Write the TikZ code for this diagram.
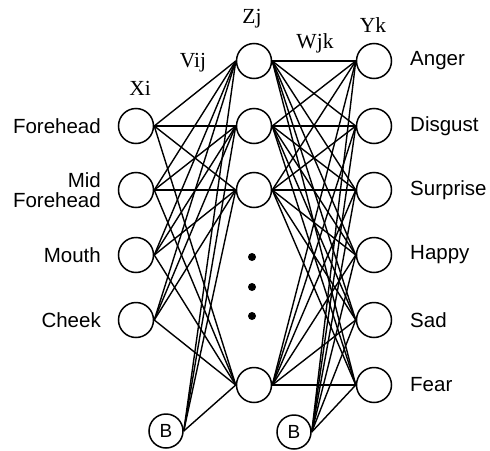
\documentclass[tikz,border=0pt]{standalone}
\usepackage{fontspec}
\setmainfont{Liberation Serif}
\setsansfont{Liberation Sans}
\begin{document}
\begin{tikzpicture}[x=1pt,y=-1pt,
  neuron/.style={circle,draw,line width=1.5pt,minimum size=35pt,inner sep=0pt},
  bias/.style={circle,draw,line width=1.5pt,minimum size=34pt,inner sep=0pt,font=\sffamily\fontsize{19}{19}\selectfont},
  lbl/.style={font=\sffamily\fontsize{20.5}{20}\selectfont,inner sep=0pt},
  hdr/.style={font=\fontsize{21.5}{22}\selectfont,inner sep=0pt},
  conn/.style={line width=1.4pt},
  dotn/.style={circle,fill=black,minimum size=8pt,inner sep=0pt}]
\useasboundingbox (0,0) rectangle (490,450);
% input layer
\node[neuron] (x1) at (136,126) {};
\node[neuron] (x2) at (136,190) {};
\node[neuron] (x3) at (136,255) {};
\node[neuron] (x4) at (136,320) {};
% hidden layer
\node[neuron] (z1) at (254,61) {};
\node[neuron] (z2) at (254,126) {};
\node[neuron] (z3) at (254,190) {};
\node[neuron] (z4) at (254,385) {};
% output layer
\node[neuron] (y1) at (374,61) {};
\node[neuron] (y2) at (374,126) {};
\node[neuron] (y3) at (374,190) {};
\node[neuron] (y4) at (374,255) {};
\node[neuron] (y5) at (374,320) {};
\node[neuron] (y6) at (374,385) {};
% biases
\node[bias] (b1) at (166,431) {B};
\node[bias] (b2) at (294,432) {B};
% dots
\node[dotn] (d1) at (252,257) {};
\node[dotn] (d2) at (252,287) {};
\node[dotn] (d3) at (252,316) {};
% connections
\foreach \i in {x1,x2,x3,x4,b1}
  \foreach \j in {z1,z2,z3,z4}
    \draw[conn] (\i.east) -- (\j.west);
\foreach \i in {z1,z2,z3,z4,b2}
  \foreach \j in {y1,y2,y3,y4,y5,y6}
    \draw[conn] (\i.east) -- (\j.west);
% input labels
\node[lbl,anchor=east] (l1) at (101,126) {Forehead};
\node[lbl,anchor=east,align=right] (l2) at (101,190) {Mid\\Forehead};
\node[lbl,anchor=east] (l3) at (101,255) {Mouth};
\node[lbl,anchor=east] (l4) at (101,320) {Cheek};
% output labels
\node[lbl,anchor=west] (o1) at (410,61) {Anger};
\node[lbl,anchor=west] (o2) at (410,126) {Disgust};
\node[lbl,anchor=west] (o3) at (410,190) {Surprise};
\node[lbl,anchor=west] (o4) at (410,255) {Happy};
\node[lbl,anchor=west] (o5) at (410,320) {Sad};
\node[lbl,anchor=west] (o6) at (410,385) {Fear};
% headers
\node[hdr] (hx) at (140,88) {Xi};
\node[hdr] (hv) at (193,63) {Vij};
\node[hdr] (hz) at (252,19) {Zj};
\node[hdr] (hw) at (315,43) {Wjk};
\node[hdr] (hy) at (373,25) {Yk};
\end{tikzpicture}
\end{document}
